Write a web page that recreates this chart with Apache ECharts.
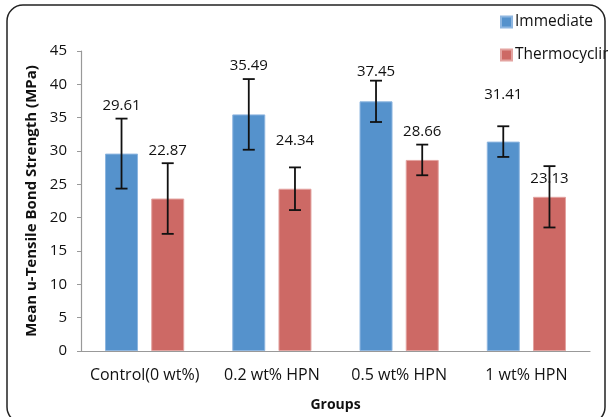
<!DOCTYPE html>
<html>
<head>
<meta charset="utf-8">
<script src="https://cdn.jsdelivr.net/npm/echarts@6/dist/echarts.min.js"></script>
<style>html,body{margin:0;padding:0;background:#fff}#c{width:608px;height:417px}</style>
</head>
<body>
<div id="c"></div>
<script>
const categories = ['Control(0 wt%)', '0.2 wt% HPN', '0.5 wt% HPN', '1 wt% HPN'];
const seriesNames = ['Immediate', 'Thermocycling'];
const immediate = [29.61, 35.49, 37.45, 31.41];
const thermo = [22.87, 24.34, 28.66, 23.13];
const immediateErr = [5.25, 5.3, 3.1, 2.3];
const thermoErr = [5.3, 3.2, 2.3, 4.6];
const yTicks = { min: 0, max: 45, interval: 5 };

// label distances (style), px above bar top
const immLabelDist = [40, 41, 22, 39];
const thLabelDist = [40, 40, 21, 11];

const BAR_W = 33, GAP = 0.4;
const FONT = '"Open Sans", "Liberation Sans", sans-serif';
const chart = echarts.init(document.getElementById('c'), null, { renderer: 'canvas' });

function barData(vals, dists) {
  return vals.map((v, i) => ({ value: v, label: { distance: dists[i] } }));
}
function errSeries(vals, errs, sign) {
  return {
    type: 'custom',
    z: 5,
    silent: true,
    data: vals.map((v, i) => [i, v, errs[i]]),
    renderItem: function (params, api) {
      const off = sign * (BAR_W + BAR_W * GAP) / 2;
      const top = api.coord([api.value(0), api.value(1) + api.value(2)]);
      const bot = api.coord([api.value(0), api.value(1) - api.value(2)]);
      const x = top[0] + off;
      const hw = 6;
      const st = { stroke: '#111', lineWidth: 1.8 };
      return {
        type: 'group',
        children: [
          { type: 'line', shape: { x1: x, y1: top[1], x2: x, y2: bot[1] }, style: st },
          { type: 'line', shape: { x1: x - hw, y1: top[1], x2: x + hw, y2: top[1] }, style: st },
          { type: 'line', shape: { x1: x - hw, y1: bot[1], x2: x + hw, y2: bot[1] }, style: st }
        ]
      };
    }
  };
}

const labelStyle = { show: true, position: 'top', color: '#111', fontSize: 15, fontFamily: FONT };

chart.setOption({
  animation: false,
  textStyle: { fontFamily: FONT },
  graphic: [{
    type: 'rect',
    shape: { x: 7, y: 5, width: 598, height: 418, r: 16 },
    style: { fill: 'none', stroke: '#222', lineWidth: 1.5 },
    z: 100
  }],
  legend: {
    orient: 'vertical',
    left: 495,
    top: 7,
    itemWidth: 11,
    itemHeight: 11,
    itemGap: 13,
    icon: 'rect',
    textStyle: { fontSize: 15.5, color: '#111', fontFamily: FONT, padding: [0, 0, 0, -2], lineHeight: 20 },
    data: seriesNames
  },
  grid: { left: 81, right: 18, top: 51, bottom: 66, containLabel: false },
  xAxis: {
    type: 'category',
    data: categories,
    name: 'Groups',
    nameLocation: 'middle',
    nameGap: 47,
    nameTextStyle: { fontWeight: 'bold', fontSize: 14, color: '#111' },
    axisLine: { lineStyle: { color: '#999', width: 1.2 } },
    axisTick: { show: false },
    axisLabel: { color: '#111', fontSize: 16, margin: 16, interval: 0 }
  },
  yAxis: {
    type: 'value',
    min: yTicks.min,
    max: yTicks.max,
    interval: yTicks.interval,
    name: 'Mean u-Tensile Bond Strength (MPa)',
    nameLocation: 'middle',
    nameGap: 41,
    nameTextStyle: { fontWeight: 'bold', fontSize: 15, color: '#111' },
    axisLine: { show: true, lineStyle: { color: '#999', width: 1.2 } },
    axisTick: { show: true, length: 4, lineStyle: { color: '#999' } },
    splitLine: { show: false },
    axisLabel: { color: '#111', fontSize: 15, margin: 14 }
  },
  series: [
    {
      name: seriesNames[0], type: 'bar', barWidth: BAR_W, barGap: '40%',
      itemStyle: { color: '#5592CC', borderColor: '#8EB6E0', borderWidth: 1 },
      label: labelStyle,
      data: barData(immediate, immLabelDist)
    },
    {
      name: seriesNames[1], type: 'bar', barWidth: BAR_W, barGap: '40%',
      itemStyle: { color: '#CD6965', borderColor: '#E3A3A0', borderWidth: 1 },
      label: labelStyle,
      data: barData(thermo, thLabelDist)
    },
    errSeries(immediate, immediateErr, -1),
    errSeries(thermo, thermoErr, 1)
  ]
});
</script>
</body>
</html>
